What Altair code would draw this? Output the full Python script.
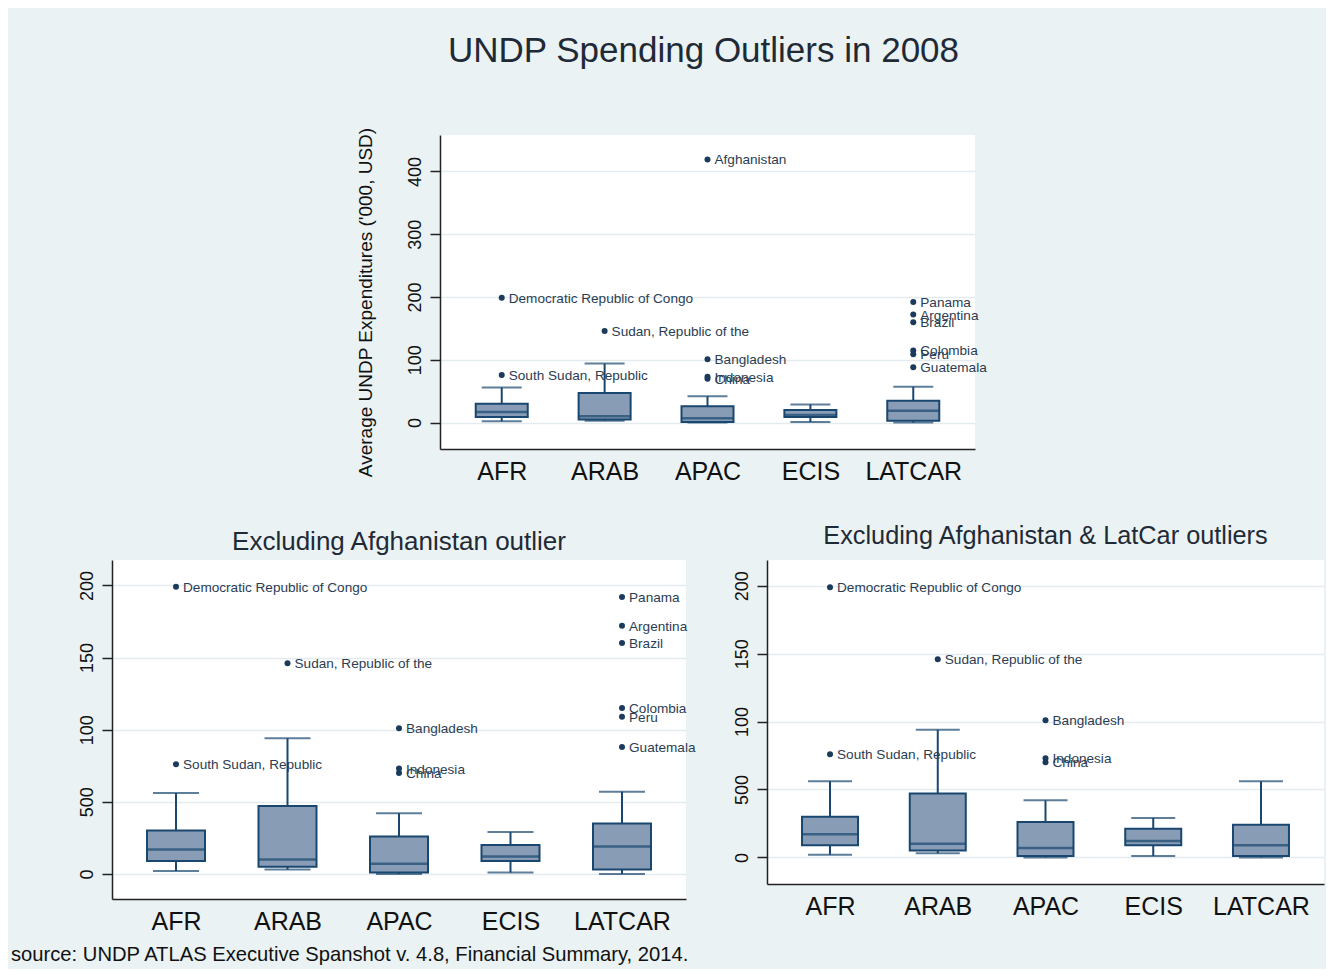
import altair as alt
import pandas as pd

FONT = "Liberation Sans"
BG = "#eaf2f3"
NAVY = "#1a476f"
BOXFILL = "#889db5"
DOT = "#1b3a5c"
LABEL = "#2b3d52"
TXT = "#1f2a37"

regions = ["AFR", "ARAB", "APAC", "ECIS", "LATCAR"]

# Box statistics (all countries) – used in top and bottom-left panels
whisker_low = [2, 3, 0, 1, 0]
q1 = [9, 5, 1, 9, 3]
median = [17, 10, 7, 12, 19]
q3 = [30, 47, 26, 20, 35]
whisker_high = [56, 94, 42, 29, 57]

# Box statistics without LatCar outliers – bottom-right panel
whisker_low_r = [2, 3, 0, 1, 0]
q1_r = [9, 5, 1, 9, 1]
median_r = [17, 10, 7, 12, 9]
q3_r = [30, 47, 26, 21, 24]
whisker_high_r = [56, 94, 42, 29, 56]

# Outliers
outlier_region = ["AFR", "AFR", "ARAB", "APAC", "APAC", "APAC", "APAC",
                  "LATCAR", "LATCAR", "LATCAR", "LATCAR", "LATCAR", "LATCAR"]
outlier_name = ["Democratic Republic of Congo", "South Sudan, Republic",
                "Sudan, Republic of the", "Afghanistan", "Bangladesh",
                "Indonesia", "China", "Panama", "Argentina", "Brazil",
                "Colombia", "Peru", "Guatemala"]
outlier_value = [199, 76, 146, 419, 101, 73, 70, 192, 172, 160, 115, 109, 88]

top_ticks = [0, 100, 200, 300, 400]
bottom_ticks = [0, 50, 100, 150, 200]
bottom_tick_labels = ["0", "500", "100", "150", "200"]

title_main = "UNDP Spending Outliers in 2008"
title_left = "Excluding Afghanistan outlier"
title_right = "Excluding Afghanistan & LatCar outliers"
y_title = "Average UNDP Expenditures ('000, USD)"
caption = "source: UNDP ATLAS Executive Spanshot v. 4.8, Financial Summary, 2014."

box_all = pd.DataFrame({"region": regions, "wlo": whisker_low, "q1": q1,
                        "med": median, "q3": q3, "whi": whisker_high})
box_r = pd.DataFrame({"region": regions, "wlo": whisker_low_r, "q1": q1_r,
                      "med": median_r, "q3": q3_r, "whi": whisker_high_r})
out_all = pd.DataFrame({"region": outlier_region, "name": outlier_name,
                        "value": outlier_value})
out_left = out_all[out_all["name"] != "Afghanistan"]
out_right = out_left[out_left["region"] != "LATCAR"]


def panel(box_df, out_df, width, height, ydom, yticks, ylabels, pad,
          box_w, cap_w, title, ytitle=None, ytitle_y=None):
    label_map = ", ".join(f"{v}: '{l}'" for v, l in zip(yticks, ylabels))
    yaxis_kwargs = dict(
        values=yticks, labelExpr=f"({{{label_map}}})[datum.value]",
        labelAngle=270, labelAlign="center", labelBaseline="bottom",
        labelFontSize=18, labelPadding=6, labelColor="#111", labelFont=FONT,
        tickSize=10, tickColor="#222", tickWidth=1.5,
        domainColor="#222", domainWidth=1.5,
        grid=True, gridColor="#e3ebee", gridWidth=1.5,
    )
    if ytitle:
        yaxis_kwargs.update(title=ytitle, titleFontSize=19, titleFont=FONT,
                            titleFontWeight="normal", titleColor="#111",
                            titlePadding=31)
        if ytitle_y is not None:
            yaxis_kwargs.update(titleY=ytitle_y)
    else:
        yaxis_kwargs.update(title=None)
    yaxis = alt.Axis(**yaxis_kwargs)
    yscale = alt.Scale(domain=ydom, nice=False, zero=False)
    x = alt.X("region:N", sort=regions,
              scale=alt.Scale(type="point", domain=regions, padding=pad),
              axis=alt.Axis(title=None, ticks=False, labelAngle=0,
                            labelFontSize=25, labelPadding=10, labelFont=FONT,
                            labelColor="#111", domainColor="#222",
                            domainWidth=1.5, grid=False))

    def Y(f):
        return alt.Y(f"{f}:Q", scale=yscale, axis=yaxis)

    base = alt.Chart(box_df)
    whisk = base.mark_rule(color=NAVY, strokeWidth=2).encode(
        x=x, y=Y("wlo"), y2="whi:Q")
    cap_lo = base.mark_tick(orient="horizontal", color=NAVY, thickness=2,
                            size=cap_w).encode(x=x, y=Y("wlo"))
    cap_hi = base.mark_tick(orient="horizontal", color=NAVY, thickness=2,
                            size=cap_w).encode(x=x, y=Y("whi"))
    box = base.mark_bar(size=box_w, fill=BOXFILL, stroke=NAVY,
                        strokeWidth=2).encode(x=x, y=Y("q1"), y2="q3:Q")
    med = base.mark_tick(orient="horizontal", color=NAVY, thickness=2.5,
                         size=box_w).encode(x=x, y=Y("med"))
    ob = alt.Chart(out_df)
    dots = ob.mark_circle(size=36, color=DOT, opacity=1).encode(
        x=x, y=Y("value"))
    labels = ob.mark_text(align="left", baseline="middle", dx=7, dy=1,
                          fontSize=13.6, font=FONT, color=LABEL).encode(
        x=x, y=Y("value"), text="name:N")
    return alt.layer(whisk, cap_lo, cap_hi, box, med, dots, labels).properties(
        width=width, height=height, title=title,
        view=alt.ViewBackground(fill="white", stroke=None))


top = panel(box_all, out_all, 535, 314, [-42, 458], top_ticks,
            [str(t) for t in top_ticks], 0.6, 52, 40,
            alt.TitleParams(title_main, fontSize=35, font=FONT,
                            fontWeight="normal", color=TXT, anchor="middle",
                            frame="group", baseline="alphabetic", offset=30,
                            dx=-4),
            ytitle=y_title, ytitle_y=167)

left = panel(box_all, out_left, 574, 339, [-17.4, 217.6], bottom_ticks,
             bottom_tick_labels, 0.574, 58, 46,
             alt.TitleParams(title_left, fontSize=26, font=FONT,
                             fontWeight="normal", color=TXT, anchor="middle",
                             frame="group", baseline="alphabetic", offset=-16))

right = panel(box_r, out_right, 557, 324, [-19.6, 219], bottom_ticks,
              bottom_tick_labels, 0.585, 56, 44,
              alt.TitleParams(title_right, fontSize=25.3, font=FONT,
                              fontWeight="normal", color=TXT, anchor="middle",
                              frame="group", baseline="alphabetic", offset=-9))

spacer = alt.Chart(pd.DataFrame({"v": [0]})).mark_point(opacity=0).encode(
    x=alt.X("v:Q", axis=None), y=alt.Y("v:Q", axis=None)
).properties(width=328, height=314,
             view=alt.ViewBackground(fill=None, stroke=None))

row1 = alt.hconcat(spacer, top, spacing=0, bounds="flush")
row2 = alt.hconcat(left, right, spacing=81, bounds="flush")

chart = alt.vconcat(row1, row2, spacing=39).properties(
    title=alt.TitleParams(caption, orient="bottom", anchor="start",
                          frame="group", fontSize=20.2, font=FONT,
                          fontWeight="normal", color="#111",
                          baseline="alphabetic", offset=27, dx=-101),
    padding={"left": 3, "top": 26, "right": 2, "bottom": 3},
    background=BG,
).configure_view(stroke=None)

chart.save("out.html", embed_options={"renderer": "svg", "actions": False})
